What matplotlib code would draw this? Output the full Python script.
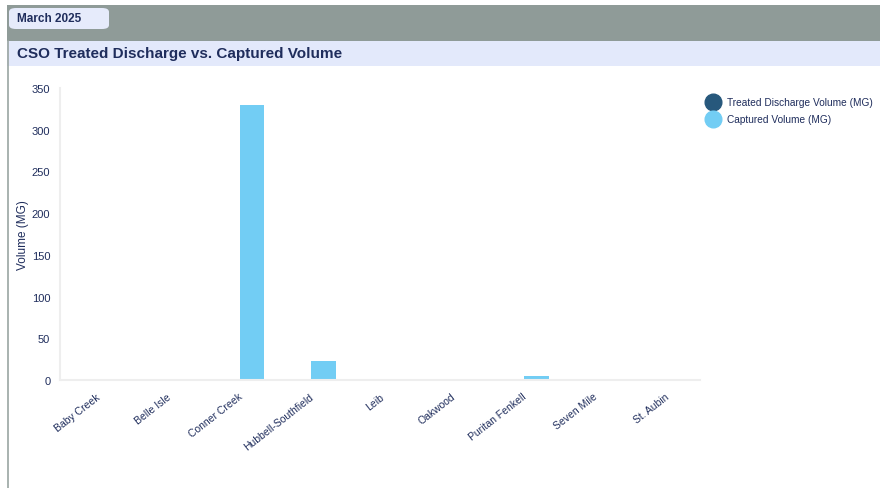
import matplotlib.pyplot as plt
import numpy as np
from matplotlib.patches import FancyBboxPatch, Rectangle
from matplotlib.lines import Line2D

plt.rcParams['font.family'] = ['Liberation Sans', 'DejaVu Sans']

# data
sites = ['Baby Creek', 'Belle Isle', 'Conner Creek', 'Hubbell-Southfield', 'Leib',
         'Oakwood', 'Puritan Fenkell', 'Seven Mile', 'St. Aubin']
treated = [0, 0, 0, 0, 0, 0, 0, 0, 0]
captured = [0, 0, 330, 23, 0, 0, 5, 0, 1]

NAVY = '#1f2d5c'
C_TREATED = '#27587c'
C_CAPTURED = '#72cdf4'

W, H = 880, 489
fig = plt.figure(figsize=(W / 100, H / 100), dpi=100)

def fx(px):
    return px / W

def fy(py):
    return 1 - py / H

# header bands
fig.patches.append(Rectangle((fx(7), fy(42)), fx(W - 7), 36 / H, transform=fig.transFigure,
                             facecolor='#8f9b98', edgecolor='none', zorder=0))
fig.patches.append(FancyBboxPatch((fx(9), fy(30)), fx(100), 21 / H, transform=fig.transFigure,
                                  boxstyle='round,pad=0,rounding_size=0.008',
                                  facecolor='#e6ebfb', edgecolor='none', zorder=1))
fig.text(fx(17), fy(19), 'March 2025', fontsize=8.5, fontweight='bold', color=NAVY,
         va='center', ha='left')
fig.patches.append(Rectangle((fx(7), fy(67)), fx(W - 7), 25 / H, transform=fig.transFigure,
                             facecolor='#e3e9fb', edgecolor='none', zorder=1))
fig.text(fx(17), fy(54), 'CSO Treated Discharge vs. Captured Volume', fontsize=11,
         fontweight='bold', color=NAVY, va='center', ha='left')
fig.lines.append(Line2D([fx(7.5), fx(7.5)], [fy(42), 0], transform=fig.transFigure,
                        color='#9aa5a2', lw=1.2))

ax = fig.add_axes([fx(60), fy(381), fx(640), 292 / H])
x = np.arange(len(sites))
bw = 0.35
ax.bar(x - 0.2, treated, bw, color=C_TREATED, label='Treated Discharge Volume (MG)')
ax.bar(x + 0.2, captured, bw, color=C_CAPTURED, label='Captured Volume (MG)')

ax.set_xlim(-0.5, len(sites) - 0.5)
ax.set_ylim(0, 350)
ax.set_yticks(range(0, 351, 50))
ax.set_xticks(x)
ax.set_xticklabels(sites, rotation=38, ha='right', rotation_mode='anchor')
ax.tick_params(length=0, labelsize=7.5, labelcolor=NAVY)
ax.tick_params(axis='y', labelsize=8, pad=7)
ax.tick_params(axis='x', pad=8)
for s in ['top', 'right']:
    ax.spines[s].set_visible(False)
for s in ['left', 'bottom']:
    ax.spines[s].set_color('#eeeeee')
    ax.spines[s].set_linewidth(1.5)
ax.set_ylabel('Volume (MG)', fontsize=8.5, color=NAVY, labelpad=2)

handles = [Line2D([], [], marker='o', ls='', ms=12, color=C_TREATED),
           Line2D([], [], marker='o', ls='', ms=12, color=C_CAPTURED)]
fig.legend(handles, ['Treated Discharge Volume (MG)', 'Captured Volume (MG)'],
           loc='upper left', bbox_to_anchor=(fx(702), fy(93)), frameon=False,
           fontsize=7.3, labelcolor=NAVY, handletextpad=0.8, labelspacing=0.7,
           borderpad=0, handlelength=1.2)

fig.savefig('out.png', dpi=100)
